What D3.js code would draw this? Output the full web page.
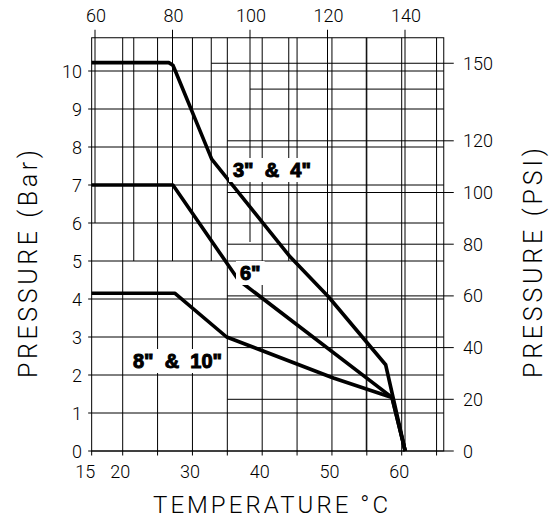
<!DOCTYPE html>
<html>
<head>
<meta charset="utf-8">
<script src="https://cdn.jsdelivr.net/npm/d3@7"></script>
<style>
body { margin: 0; background: #fff; }
text { font-family: Roboto, "DejaVu Sans", sans-serif; font-weight: 300; fill: #000; }
.lbl { font-family: "Liberation Sans", Arial, sans-serif; font-weight: 700; white-space: pre; }
</style>
</head>
<body>
<svg id="chart" width="553" height="523"></svg>
<script>
// curves: [temperature C, pressure bar]
var series34 = [[15.55, 10.22], [26.6, 10.22], [27.2, 10.15], [27.55, 10.0], [32.76, 7.68], [44.0, 5.11], [49.5, 4.06], [57.7, 2.27], [60.5, 0]];
var series6 = [[15.55, 7.0], [27.2, 7.0], [36.6, 4.5], [58.6, 1.41], [60.5, 0]];
var series810 = [[15.55, 4.15], [27.5, 4.15], [34.9, 3.0], [50.2, 1.92], [58.6, 1.41], [60.5, 0]];
var curveNames = ['3"  &  4"', '6"', '8"  &  10"'];

var barTicks = [0, 1, 2, 3, 4, 5, 6, 7, 8, 9, 10];
var psiTicks = [0, 20, 40, 60, 80, 100, 120, 150];
var fTicks = [60, 80, 100, 120, 140];
var cTicks = [15, 20, 30, 40, 50, 60];

// grid
var cLines = [20, 25, 30, 35, 40, 45, 50, 55, 60, 65];
var fLines = [60, 70, 80, 90, 100, 110, 120, 130, 140];
var fLineEnds = [6, 5, 5, 5, 5.5, 5, 3, 0, 0];   // bar where each F line stops
var psiLines = [150, 140, 120, 100, 80, 60, 40, 20];
var psiStartF = [90, 100, null, null, null, null, null, null];
var psiStartC = [null, null, 35, 35, 35, 35, 35, 35];

var svg = d3.select("#chart");
var xC = d3.scaleLinear().domain([20, 60]).range([122.7, 401.7]);
var xF = d3.scaleLinear().domain([60, 150]).range([95, 443.75]);
var yBar = d3.scaleLinear().domain([0, 10]).range([451, 71]);
var yPsi = d3.scaleLinear().domain([0, 150]).range([451, 63.25]);

var pLeft = xC(15.55), pRight = xF(150), pTop = yBar(10.875), pBottom = yBar(0);

var grid = svg.append("g").attr("stroke", "#000").attr("stroke-width", 1).attr("fill", "none");

// border
grid.append("rect").attr("x", pLeft).attr("y", pTop)
  .attr("width", pRight - pLeft).attr("height", pBottom - pTop);

// bar lines, full width with little tick on the left
grid.selectAll(".bl").data(barTicks).enter().append("line")
  .attr("x1", pLeft - 3.5).attr("x2", pRight)
  .attr("y1", d => yBar(d)).attr("y2", d => yBar(d));

// celsius lines, full height with tick below
grid.selectAll(".cl").data(cLines).enter().append("line")
  .attr("x1", d => xC(d)).attr("x2", d => xC(d))
  .attr("y1", pTop).attr("y2", pBottom + 4.5);
grid.append("line").attr("x1", pLeft).attr("x2", pLeft).attr("y1", pBottom).attr("y2", pBottom + 4.5);

// fahrenheit lines, from top down to some pressure
grid.selectAll(".fl").data(fLines).enter().append("line")
  .attr("x1", d => xF(d)).attr("x2", d => xF(d))
  .attr("y1", d => fTicks.indexOf(d) >= 0 ? pTop - 8 : pTop)
  .attr("y2", (d, i) => yBar(fLineEnds[i]));

// psi lines, partial width with tick on the right
grid.selectAll(".pl").data(psiLines).enter().append("line")
  .attr("x1", (d, i) => psiStartF[i] != null ? xF(psiStartF[i]) : xC(psiStartC[i]))
  .attr("x2", d => psiTicks.indexOf(d) >= 0 ? pRight + 10 : pRight)
  .attr("y1", d => yPsi(d)).attr("y2", d => yPsi(d));
grid.append("line").attr("x1", pRight).attr("x2", pRight + 10).attr("y1", pBottom).attr("y2", pBottom);

// tick labels
var fs = 18;
svg.selectAll(".tb").data(barTicks).enter().append("text")
  .attr("x", 82).attr("y", d => yBar(d) + 7).attr("text-anchor", "end")
  .attr("font-size", fs).text(d => d);
svg.selectAll(".tp").data(psiTicks).enter().append("text")
  .attr("x", 463).attr("y", d => yPsi(d) + 6.5)
  .attr("font-size", fs).text(d => d);
svg.selectAll(".tf").data(fTicks).enter().append("text")
  .attr("x", d => xF(d) + 1).attr("y", 22).attr("text-anchor", "middle")
  .attr("font-size", fs).text(d => d);
svg.selectAll(".tc").data(cTicks).enter().append("text")
  .attr("x", d => xC(d) - 2.5).attr("y", 478).attr("text-anchor", "middle")
  .attr("font-size", fs).text(d => d);

// axis titles
svg.append("text").attr("x", 153).attr("y", 513).attr("font-size", 24)
  .attr("textLength", 235).attr("lengthAdjust", "spacing")
  .text("TEMPERATURE  \u00B0C");
svg.append("text").attr("transform", "translate(37,264) rotate(-90)")
  .attr("text-anchor", "middle").attr("font-size", 25)
  .attr("textLength", 228).attr("lengthAdjust", "spacing")
  .text("PRESSURE  (Bar)");
svg.append("text").attr("transform", "translate(542,263) rotate(-90)")
  .attr("text-anchor", "middle").attr("font-size", 25)
  .attr("textLength", 230).attr("lengthAdjust", "spacing")
  .text("PRESSURE  (PSI)");

// curve labels with white backing
var labelAt = [[233, 177], [240, 280], [133, 368]];
var lblG = svg.append("g");
var boxes = lblG.append("g");
var lbls = lblG.selectAll(".cn").data(curveNames).enter().append("text")
  .attr("class", "lbl")
  .attr("x", (d, i) => labelAt[i][0]).attr("y", (d, i) => labelAt[i][1])
  .attr("font-size", 20).attr("stroke", "#000").attr("stroke-width", 1)
  .text(d => d);
lbls.each(function () {
  var b = this.getBBox();
  boxes.append("rect").attr("x", b.x - 4).attr("y", b.y - 1)
    .attr("width", b.width + 8).attr("height", b.height + 2).attr("fill", "#fff");
});

// curves
var line = d3.line().x(d => xC(d[0])).y(d => yBar(d[1]));
svg.append("g").selectAll("path").data([series34, series6, series810]).enter().append("path")
  .attr("d", line).attr("fill", "none").attr("stroke", "#000")
  .attr("stroke-width", 3.6).attr("stroke-linejoin", "round");

lblG.raise();
</script>
</body>
</html>
